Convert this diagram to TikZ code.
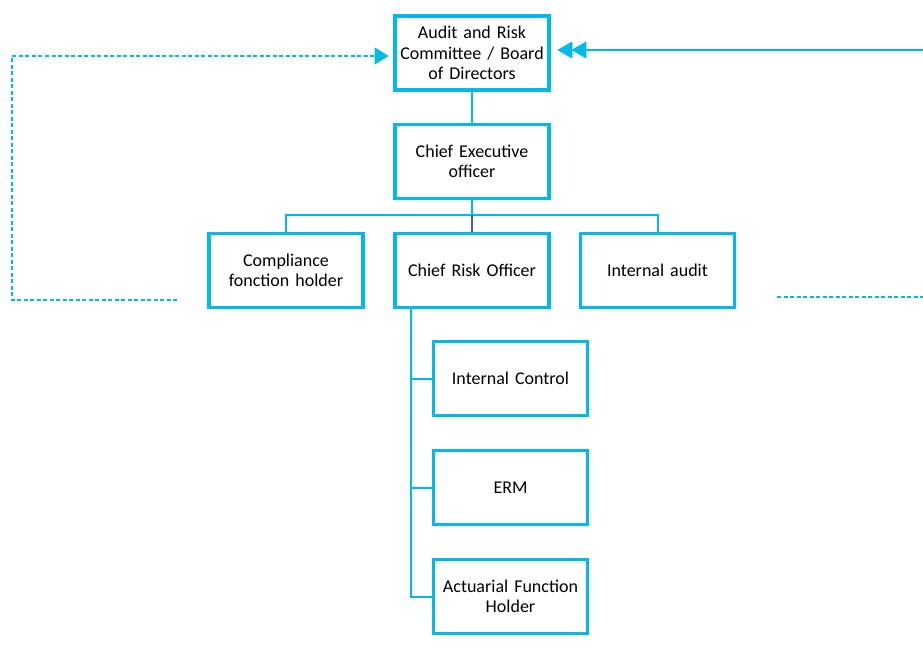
\documentclass[tikz,border=0pt]{standalone}
\usepackage{fontspec}
\setmainfont{Carlito}
\definecolor{cy}{HTML}{00B9E6}
\definecolor{dk}{HTML}{3A62A8}
\begin{document}
\begin{tikzpicture}[x=1pt,y=-1pt,
  box/.style={draw=cy,line width=3.5pt,fill=white,minimum width=151pt,minimum height=74pt,
    inner sep=2pt,align=center,text width=150pt,font=\fontsize{18}{20.5}\selectfont},
  conn/.style={draw=cy,line width=2pt},
  dsh/.style={draw=cy,line width=1.2pt,dash pattern=on 4pt off 2.5pt},
  head/.style={fill=cy,draw=cy,line width=0.6pt,line join=miter}]
\useasboundingbox (0,0) rectangle (923,657);
\node[box] (arc) at (472,53) {Audit and Risk\\Committee / Board\\of Directors};
\node[box] (ceo) at (472,161.5) {Chief Executive\\officer};
\node[box] (comp) at (286,270.5) {Compliance\\fonction holder};
\node[box] (cro) at (472,270.5) {Chief Risk Officer};
\node[box] (ia) at (657.5,270.5) {Internal audit};
\node[box] (ic) at (510.5,378.5) {Internal Control};
\node[box] (erm) at (510.5,487.5) {ERM};
\node[box] (act) at (510.5,596.5) {Actuarial Function\\Holder};
\coordinate (bus) at (472,215);
\coordinate (crox) at (411,309);
\coordinate (ld1) at (177,300);
\coordinate (ld2) at (12,300);
\coordinate (ld3) at (12,56);
\coordinate (ltip) at (388,56);
\coordinate (rd1) at (777,297);
\coordinate (rd2) at (923,297);
\coordinate (rs) at (923,50);
\coordinate (rtip) at (558,50);
\draw[conn] (arc.south) -- (ceo.north);
\draw[conn] (ceo.south) -- (bus);
\draw[conn] (comp.north) |- (bus) -| (ia.north);
\draw[draw=dk,line width=2pt] (bus) -- (cro.north);
\draw[conn] (crox) |- (act.west);
\draw[conn] (crox |- ic.west) -- (ic.west);
\draw[conn] (crox |- erm.west) -- (erm.west);
\draw[dsh] (ld1) -- (ld2) -- (ld3) -- ([xshift=-13pt]ltip);
\draw[head] (ltip) -- ++(-13,-8) -- ++(0,16) -- cycle;
\draw[dsh] (rd1) -- (rd2);
\draw[draw=cy,line width=1.5pt] (rs) -- ([xshift=28pt]rtip);
\draw[head] (rtip) -- ++(14,-8) -- ++(0,16) -- cycle;
\draw[head] ([xshift=14pt]rtip) -- ++(14,-8) -- ++(0,16) -- cycle;
\end{tikzpicture}
\end{document}
